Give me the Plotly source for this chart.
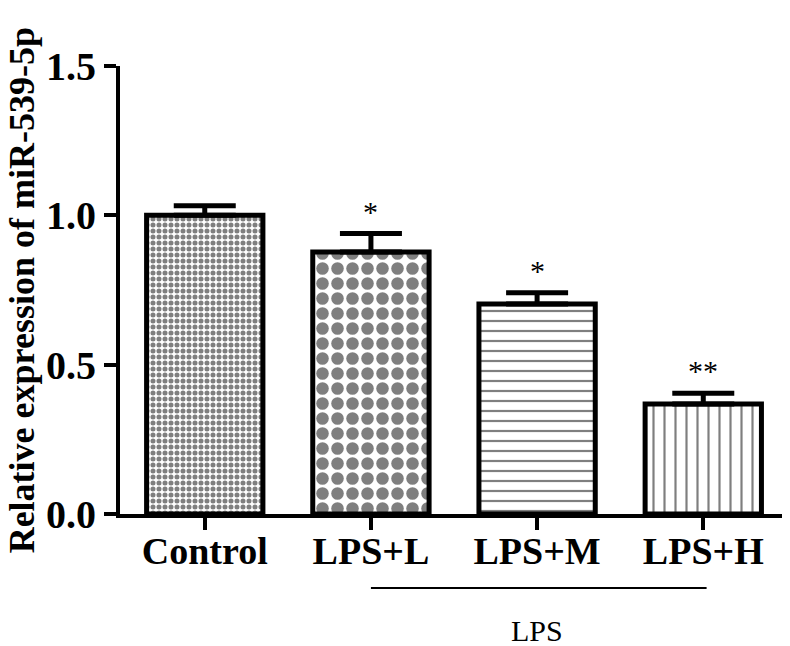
import plotly.graph_objects as go

# group labels and values
groups = ["Control", "LPS+L", "LPS+M", "LPS+H"]
expression = [1.0, 0.877, 0.703, 0.368]
sem = [0.032, 0.062, 0.038, 0.036]
stars = ["", "*", "*", "**"]
patterns = [".", ".", "-", "|"]
pattern_size = [6, 15, 10, 11]
pattern_solidity = [0.55, 0.55, 0.22, 0.2]

fig = go.Figure()
fig.add_trace(go.Bar(
    x=groups, y=expression, width=0.7,
    marker=dict(color="white",
                line=dict(color="black", width=5),
                pattern=dict(shape=patterns, size=pattern_size,
                             solidity=pattern_solidity,
                             fgcolor="black", bgcolor="white", fillmode="overlay")),
    error_y=dict(type="data", array=sem, arrayminus=[0] * 4, symmetric=False,
                 color="black", thickness=5, width=31),
))

for g, v, e, s in zip(groups, expression, sem, stars):
    if s:
        fig.add_annotation(x=g, y=v + e, text=s, showarrow=False, yanchor="bottom",
                           yshift=4, font=dict(family="Liberation Serif", size=30, color="black"))

# LPS bracket under the labels
fig.add_shape(type="line", xref="x", yref="paper", x0=1, x1=3.02, y0=-0.165, y1=-0.165,
              line=dict(color="black", width=2))
fig.add_annotation(x=2, y=-0.26, xref="x", yref="paper", text="LPS", showarrow=False,
                   yanchor="middle",
                   font=dict(family="Liberation Serif", size=30, color="black"))

# y title as a rotated annotation so it can sit close to the page edge
fig.add_annotation(x=-0.144, y=0.5, xref="paper", yref="paper", textangle=-90,
                   text="Relative expression of miR-539-5p", showarrow=False,
                   xanchor="center", yanchor="middle",
                   font=dict(family="Liberation Serif", size=36, color="black", weight="bold"))

fig.update_layout(
    width=790, height=646,
    margin=dict(l=112, r=0, t=58, b=140),
    plot_bgcolor="white", paper_bgcolor="white",
    showlegend=False,
    font=dict(family="Liberation Serif", color="black"),
)
fig.update_xaxes(range=[-0.51, 3.57], showline=True, linecolor="black", linewidth=4,
                 ticks="outside", ticklen=12, tickwidth=4, tickcolor="black",
                 ticklabelstandoff=-12,
                 tickfont=dict(family="Liberation Serif", size=38, color="black", weight="bold"),
                 showgrid=False, zeroline=False, automargin=False)
fig.update_yaxes(range=[0, 1.5], tickvals=[0, 0.5, 1.0, 1.5], ticktext=["0.0", "0.5", "1.0", "1.5"],
                 showline=True, linecolor="black", linewidth=4,
                 ticks="outside", ticklen=12, tickwidth=4, tickcolor="black",
                 tickfont=dict(family="Liberation Serif", size=40, color="black", weight="bold"),
                 showgrid=False, zeroline=False, automargin=False)

fig.write_html("out.html")
